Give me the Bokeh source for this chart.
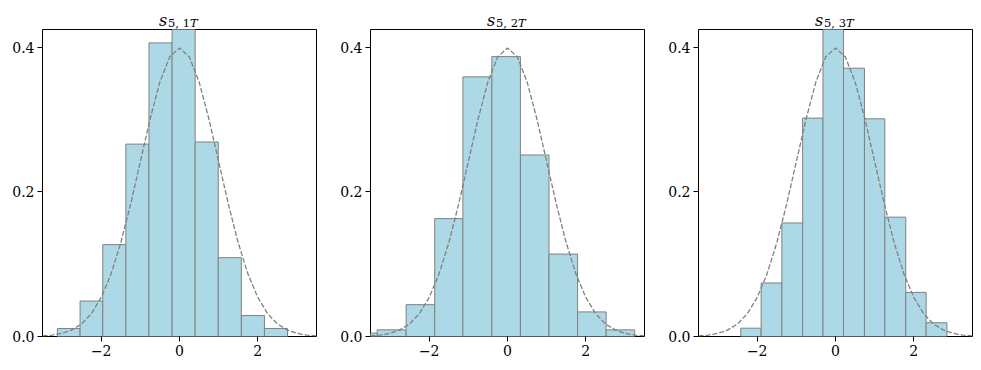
from bokeh.plotting import figure
from bokeh.layouts import row, column
from bokeh.models import Range1d, FixedTicker, ColumnDataSource
from bokeh.core.properties import value
from bokeh.embed import file_html
from bokeh.resources import INLINE

# ---- data ----
titles_sub = ["5, 1", "5, 2", "5, 3"]

edges_1 = [-3.12, -2.54, -1.96, -1.37, -0.78, -0.19, 0.40, 0.99, 1.58, 2.17, 2.76]
dens_1 = [0.011, 0.049, 0.127, 0.266, 0.406, 0.43, 0.269, 0.109, 0.029, 0.011]

edges_2 = [-4.06, -3.33, -2.59, -1.86, -1.14, -0.40, 0.33, 1.06, 1.79, 2.52, 3.25]
dens_2 = [0.0046, 0.0092, 0.044, 0.163, 0.359, 0.387, 0.251, 0.114, 0.034, 0.0092]

edges_3 = [-2.42, -1.90, -1.37, -0.84, -0.32, 0.205, 0.74, 1.26, 1.795, 2.315, 2.846]
dens_3 = [0.0115, 0.074, 0.157, 0.302, 0.44, 0.371, 0.301, 0.165, 0.061, 0.019]

# reference density curve (dashed), read at steps of 0.25
curve_x = [-3.5, -3.25, -3.0, -2.75, -2.5, -2.25, -2.0, -1.75, -1.5, -1.25, -1.0,
           -0.75, -0.5, -0.25, 0.0, 0.25, 0.5, 0.75, 1.0, 1.25, 1.5, 1.75, 2.0,
           2.25, 2.5, 2.75, 3.0, 3.25, 3.5]
curve_y = [0.0009, 0.0020, 0.0044, 0.0091, 0.0175, 0.0317, 0.0540, 0.0863, 0.1295,
           0.1826, 0.2420, 0.3011, 0.3521, 0.3867, 0.3989, 0.3867, 0.3521, 0.3011,
           0.2420, 0.1826, 0.1295, 0.0863, 0.0540, 0.0317, 0.0175, 0.0091, 0.0044,
           0.0020, 0.0009]

x_ticks = [-2, 0, 2]
x_tick_labels = ["\u22122", "0", "2"]
y_ticks = [0.0, 0.2, 0.4]
y_tick_labels = ["0.0", "0.2", "0.4"]

X_MIN, X_MAX = -3.5, 3.5
Y_MIN, Y_MAX = 0.0, 0.4245

FONT = "DejaVu Serif"
FW, FH = 274, 307
TOP_H = 29


def title_strip(sub, border_left, border_right):
    # frame of this strip is aligned by the column layout with the panel frame below
    t = figure(frame_width=FW, frame_height=TOP_H,
               output_backend="svg", toolbar_location=None,
               min_border_left=border_left, min_border_right=border_right,
               min_border_top=0, min_border_bottom=0,
               x_axis_location=None, y_axis_location=None,
               x_range=Range1d(0, FW), y_range=Range1d(0, TOP_H))
    t.outline_line_color = None
    t.grid.visible = False
    t.background_fill_color = "white"
    t.border_fill_color = "white"
    cx = FW / 2
    t.text(x=[cx - 20.5], y=[9], text=["s"], text_font=value(FONT),
           text_font_style="italic", text_font_size="16px",
           text_align="left", text_baseline="alphabetic", text_color="black")
    t.text(x=[cx - 11.5], y=[6.5], text=[sub], text_font=value(FONT),
           text_font_size="11.5px",
           text_align="left", text_baseline="alphabetic", text_color="black")
    t.text(x=[cx + 10.5], y=[6.5], text=["T"], text_font=value(FONT),
           text_font_style="italic", text_font_size="11.5px",
           text_align="left", text_baseline="alphabetic", text_color="black")
    return t


def panel(edges, dens, border_left, border_right):
    p = figure(frame_width=FW, frame_height=FH, output_backend="svg",
               toolbar_location=None,
               min_border_left=border_left, min_border_right=border_right,
               min_border_top=0, min_border_bottom=34,
               x_range=Range1d(X_MIN, X_MAX), y_range=Range1d(Y_MIN, Y_MAX))
    p.background_fill_color = "white"
    p.border_fill_color = "white"
    p.outline_line_color = "black"
    p.outline_line_width = 1
    p.outline_line_alpha = 1
    p.grid.visible = False

    src = ColumnDataSource(dict(left=edges[:-1], right=edges[1:], top=dens))
    p.quad(left="left", right="right", top="top", bottom=0, source=src,
           fill_color="#ADD8E6", line_color="#808080", line_width=1)

    p.line(curve_x, curve_y, line_color="#808080", line_width=1.3,
           line_dash="5 2")

    for ax in (p.xaxis[0], p.yaxis[0]):
        ax.axis_line_color = None
        ax.major_tick_line_color = "black"
        ax.major_tick_line_width = 1
        ax.major_tick_out = 5
        ax.major_tick_in = 0
        ax.minor_tick_line_color = None
        ax.major_label_text_font = FONT
        ax.major_label_text_font_size = "14px"
        ax.major_label_text_color = "black"
        ax.major_label_standoff = 3

    p.xaxis.ticker = FixedTicker(ticks=x_ticks)
    p.xaxis.major_label_overrides = {t: l for t, l in zip(x_ticks, x_tick_labels)}
    p.yaxis.ticker = FixedTicker(ticks=y_ticks)
    p.yaxis.major_label_overrides = {t: l for t, l in zip(y_ticks, y_tick_labels)}
    return p


borders = [(42, 20), (34, 20), (34, 9)]
all_edges = [edges_1, edges_2, edges_3]
all_dens = [dens_1, dens_2, dens_3]

cols = []
for sub, (bl, br), e, d in zip(titles_sub, borders, all_edges, all_dens):
    cols.append(column(title_strip(sub, bl, br), panel(e, d, bl, br), spacing=0))

layout = row(*cols, spacing=0)

open("out.html", "w").write(file_html(layout, INLINE))
